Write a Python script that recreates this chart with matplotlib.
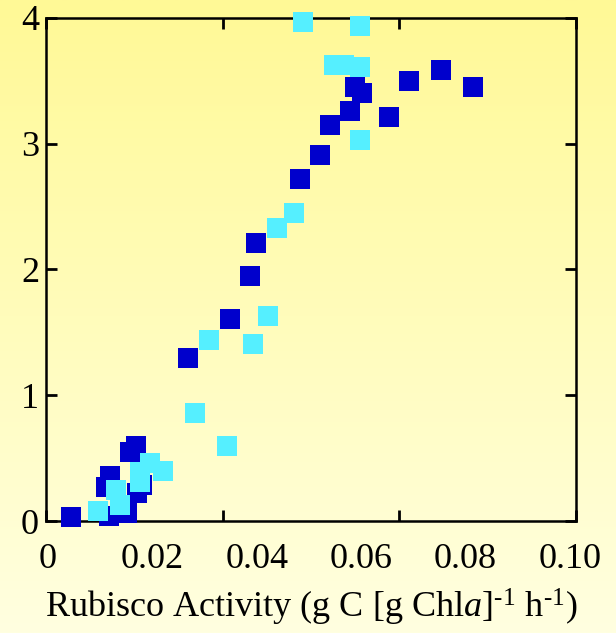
import matplotlib.pyplot as plt
import numpy as np

# Rubisco activity vs rate, two groups of samples
dark_x = [0.0045, 0.0117, 0.0151, 0.0112, 0.0119, 0.0157, 0.0168, 0.0170, 0.0181,
          0.0269, 0.0348, 0.0387, 0.0399, 0.0482, 0.0521, 0.0540, 0.0578, 0.0589,
          0.0601, 0.0653, 0.0692, 0.0753, 0.0815]
dark_y = [0.03, 0.04, 0.06, 0.27, 0.36, 0.55, 0.60, 0.22, 0.29,
          1.30, 1.61, 1.95, 2.21, 2.72, 2.91, 3.15, 3.26, 3.45,
          3.40, 3.21, 3.50, 3.59, 3.45]

cyan_x = [0.0096, 0.0137, 0.0130, 0.0176, 0.0176, 0.0196, 0.0221, 0.0281, 0.0308,
          0.0343, 0.0392, 0.0422, 0.0438, 0.0471, 0.0489, 0.0547, 0.0567, 0.0597,
          0.0597, 0.0598]
cyan_y = [0.08, 0.13, 0.25, 0.31, 0.39, 0.46, 0.40, 0.86, 1.44,
          0.60, 1.41, 1.63, 2.33, 2.45, 3.97, 3.63, 3.63, 3.61,
          3.94, 3.03]

xticks = [0, 0.02, 0.04, 0.06, 0.08, 0.10]
xtick_labels = ["0", "0.02", "0.04", "0.06", "0.08", "0.10"]
yticks = [0, 1, 2, 3, 4]

plt.rcParams['font.family'] = ['Liberation Serif', 'DejaVu Serif']
plt.rcParams['mathtext.fontset'] = 'custom'
plt.rcParams['mathtext.rm'] = 'Liberation Serif'
plt.rcParams['mathtext.it'] = 'Liberation Serif:italic'

fig = plt.figure(figsize=(6.16, 6.33), dpi=100)

# yellow gradient backdrop
bg = fig.add_axes([0, 0, 1, 1], zorder=-10)
top = np.array([255, 249, 150]) / 255
bot = np.array([255, 255, 224]) / 255
t = np.linspace(0, 1, 256)[:, None]
grad = top[None, :] * (1 - t) + bot[None, :] * t
bg.imshow(grad[:, None, :], aspect='auto', extent=[0, 1, 0, 1])
bg.axis('off')

ax = fig.add_axes([0.0747, 0.1769, 0.8597, 0.7947])
ax.set_facecolor('none')

ax.plot(dark_x, dark_y, 's', color='#0000cc', ms=13.7, mew=0, clip_on=False, zorder=3)
ax.plot(cyan_x, cyan_y, 's', color='#55efff', ms=13.7, mew=0, clip_on=False, zorder=4)

x0, x1 = -0.00038, 0.10107
ax.set_xlim(x0, x1)
ax.set_ylim(0, 4)

ax.set_xticks(xticks)
ax.set_xticklabels(xtick_labels, fontsize=26)
ax.tick_params(axis='x', which='major', length=0, pad=16)
ax.set_xticks([x0, x0 + (x1 - x0) / 3, x0 + 2 * (x1 - x0) / 3, x1], minor=True)
ax.tick_params(axis='x', which='minor', direction='in', length=8, width=2,
               top=True, bottom=True)

ax.set_yticks(yticks)
ax.set_yticklabels([str(v) for v in yticks], fontsize=26)
ax.tick_params(axis='y', direction='in', length=8, width=2, left=True, right=True, pad=5)

for s in ax.spines.values():
    s.set_linewidth(1.8)

ax.set_xlabel(r"Rubisco Activity (g C [g Chl$\mathit{a}$]$^{\text{-1}}$ h$^{\text{-1}}$)",
              fontsize=26, labelpad=8)

plt.savefig('out.png', dpi=100)
